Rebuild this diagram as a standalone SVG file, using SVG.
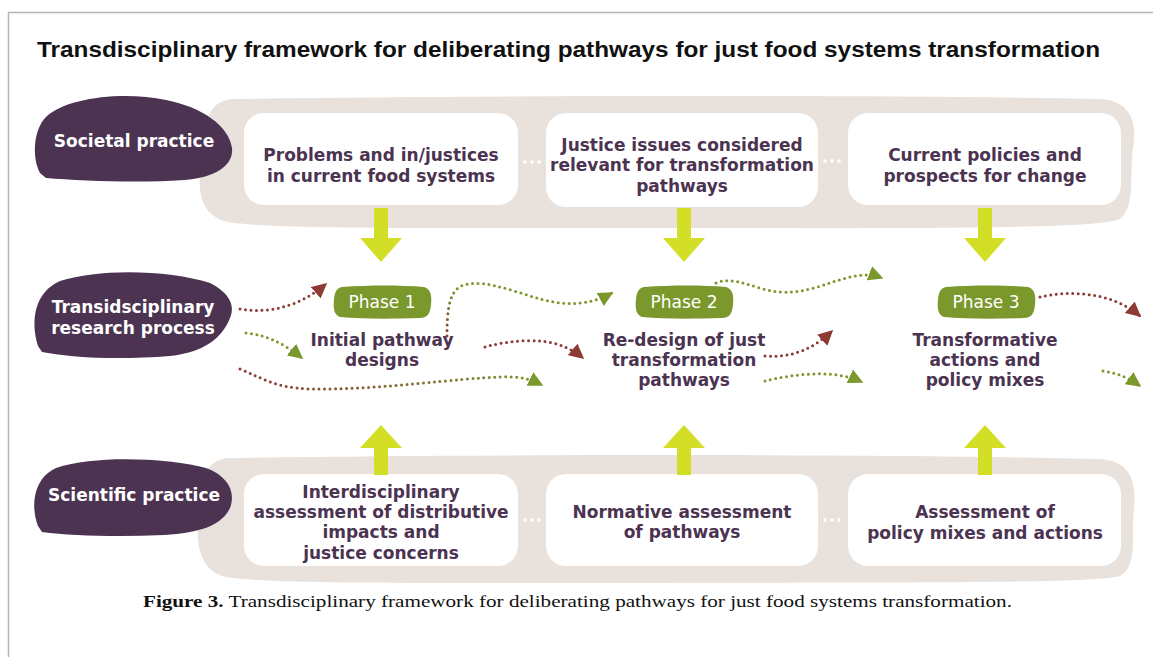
<svg xmlns="http://www.w3.org/2000/svg" width="1153" height="657" viewBox="0 0 1153 657">
  <style>
    .title { font-family: "Liberation Sans", "DejaVu Sans", sans-serif; font-weight: bold; font-size: 22.5px; fill: #111111; }
    .band { fill: #e8e1dc; }
    .box { fill: #ffffff; }
    .blob { fill: #4b3351; }
    .blob-label { font-family: "DejaVu Sans", "Liberation Sans", sans-serif; font-weight: bold; font-size: 17px; fill: #ffffff; text-anchor: middle; }
    .box-label { font-family: "DejaVu Sans", "Liberation Sans", sans-serif; font-weight: bold; font-size: 17px; fill: #4b3351; text-anchor: middle; }
    .phase { fill: #7a982b; }
    .phase-label { font-family: "DejaVu Sans", "Liberation Sans", sans-serif; font-size: 17px; fill: #ffffff; text-anchor: middle; }
    .block-arrow { fill: #d3df26; }
    .dot { fill: #ffffff; }
    .flow { fill: none; stroke-width: 3; stroke-linecap: round; stroke-dasharray: 0 5.5; }
    .flow-red { stroke: #8e3a35; }
    .flow-green { stroke: #7a982b; }
    .caption { font-family: "Liberation Serif", serif; font-size: 17.5px; fill: #111111; }
  </style>
  <defs>
    <marker id="head-red" viewBox="0 0 10 10" refX="9" refY="5" markerWidth="15" markerHeight="15" markerUnits="userSpaceOnUse" orient="auto">
      <path d="M0,0 L10,5 L0,10 Z" fill="#8e3a35"/>
    </marker>
    <marker id="head-green" viewBox="0 0 10 10" refX="9" refY="5" markerWidth="15" markerHeight="15" markerUnits="userSpaceOnUse" orient="auto">
      <path d="M0,0 L10,5 L0,10 Z" fill="#7a982b"/>
    </marker>
    <linearGradient id="red-to-green" x1="0" y1="0" x2="1" y2="0">
      <stop offset="0" stop-color="#8e3a35"/>
      <stop offset="1" stop-color="#7a982b"/>
    </linearGradient>
    <linearGradient id="red-to-green-v" x1="0" y1="1" x2="1" y2="0">
      <stop offset="0" stop-color="#8e3a35"/>
      <stop offset="0.5" stop-color="#7a982b"/>
      <stop offset="1" stop-color="#7a982b"/>
    </linearGradient>
    <path id="arrow-down" d="M-7,0 H7 V30 H21 L0,54 L-21,30 H-7 Z"/>
    <path id="arrow-up" d="M0,0 L21,23 H7 V50 H-7 V23 H-21 Z"/>
  </defs>

  <!-- frame -->
  <path d="M8.5,657 V12.5 H1153" fill="none" stroke="#b5b5b5" stroke-width="1.5"/>

  <text class="title" x="37" y="57" textLength="1063" lengthAdjust="spacingAndGlyphs">Transdisciplinary framework for deliberating pathways for just food systems transformation</text>

  <!-- societal practice row -->
  <g id="societal-band">
    <path class="band" d="M232,99 C520,95 880,95 1100,99 C1128,101 1138,118 1133,148 C1129,175 1136,206 1120,219 C1100,230 880,228 600,228 C420,228 270,229 228,222 C202,216 198,194 200,168 C202,128 206,101 232,99 Z"/>
    <circle class="dot" cx="525" cy="162" r="1.8"/><circle class="dot" cx="532" cy="162" r="1.8"/><circle class="dot" cx="539" cy="162" r="1.8"/>
    <circle class="dot" cx="825" cy="161" r="1.8"/><circle class="dot" cx="832" cy="161" r="1.8"/><circle class="dot" cx="839" cy="161" r="1.8"/>
  </g>
  <g id="societal-practice">
    <path class="blob" d="M40,173 C32,158 33,130 46,117 C66,98 122,91 166,100 C202,107 229,126 232,148 C234,166 214,178 184,180 C140,183 82,181 46,178 Z"/>
    <text class="blob-label" x="134" y="147">Societal practice</text>
  </g>
  <g id="problems-injustices">
    <rect class="box" x="244" y="113" width="274" height="92" rx="20"/>
    <text class="box-label" x="381" y="161">Problems and in/justices</text>
    <text class="box-label" x="381" y="182">in current food systems</text>
  </g>
  <g id="justice-issues">
    <rect class="box" x="546" y="113" width="272" height="94" rx="20"/>
    <text class="box-label" x="682" y="151">Justice issues considered</text>
    <text class="box-label" x="682" y="171">relevant for transformation</text>
    <text class="box-label" x="682" y="192">pathways</text>
  </g>
  <g id="current-policies">
    <rect class="box" x="848" y="113" width="273" height="92" rx="20"/>
    <text class="box-label" x="985" y="161">Current policies and</text>
    <text class="box-label" x="985" y="182">prospects for change</text>
  </g>

  <!-- scientific practice row -->
  <g id="scientific-band">
    <path class="band" d="M228,458 C520,454 880,454 1100,459 C1128,461 1137,478 1134,508 C1131,538 1138,566 1120,576 C1098,584 880,582 600,583 C420,583 268,584 226,577 C200,571 196,546 198,516 C200,480 205,460 228,458 Z"/>
    <circle class="dot" cx="525" cy="520" r="1.8"/><circle class="dot" cx="532" cy="520" r="1.8"/><circle class="dot" cx="539" cy="520" r="1.8"/>
    <circle class="dot" cx="825" cy="520" r="1.8"/><circle class="dot" cx="832" cy="520" r="1.8"/><circle class="dot" cx="839" cy="520" r="1.8"/>
  </g>
  <g id="scientific-practice">
    <path class="blob" d="M38,526 C30,505 34,478 56,468 C96,455 166,458 206,468 C228,476 236,492 230,508 C222,525 200,533 164,535 C120,537 72,536 42,532 Z"/>
    <text class="blob-label" x="134" y="501">Scientific practice</text>
  </g>
  <g id="interdisciplinary-assessment">
    <rect class="box" x="244" y="474" width="274" height="92" rx="20"/>
    <text class="box-label" x="381" y="498">Interdisciplinary</text>
    <text class="box-label" x="381" y="518">assessment of distributive</text>
    <text class="box-label" x="381" y="538">impacts and</text>
    <text class="box-label" x="381" y="559">justice concerns</text>
  </g>
  <g id="normative-assessment">
    <rect class="box" x="546" y="474" width="272" height="92" rx="20"/>
    <text class="box-label" x="682" y="518">Normative assessment</text>
    <text class="box-label" x="682" y="538">of pathways</text>
  </g>
  <g id="policy-assessment">
    <rect class="box" x="848" y="474" width="273" height="92" rx="20"/>
    <text class="box-label" x="985" y="518">Assessment of</text>
    <text class="box-label" x="985" y="539">policy mixes and actions</text>
  </g>

  <!-- transdisciplinary research process row -->
  <g id="research-process">
    <path class="blob" d="M38,346 C30,320 35,292 60,281 C100,268 170,270 210,283 C228,292 236,305 230,318 C222,338 205,352 170,356 C120,360 72,358 42,352 Z"/>
    <text class="blob-label" x="133" y="313">Transidsciplinary</text>
    <text class="blob-label" x="133" y="334">research process</text>
  </g>
  <g id="phase-1">
    <path class="phase" d="M342,287 C370,285 400,285 424,287 C431,289 432,296 431,305 C430,313 428,318 420,318 C390,319 362,319 340,317 C334,315 333,308 334,299 C335,291 337,288 342,287 Z"/>
    <text class="phase-label" x="382" y="308">Phase 1</text>
    <text class="box-label" x="382" y="346">Initial pathway</text>
    <text class="box-label" x="382" y="366">designs</text>
  </g>
  <g id="phase-2">
    <path class="phase" d="M644,287 C672,285 702,285 726,287 C733,289 734,296 733,305 C732,313 730,318 722,318 C692,319 664,319 642,317 C636,315 635,308 636,299 C637,291 639,288 644,287 Z"/>
    <text class="phase-label" x="684" y="308">Phase 2</text>
    <text class="box-label" x="684" y="346">Re-design of just</text>
    <text class="box-label" x="684" y="366">transformation</text>
    <text class="box-label" x="684" y="386">pathways</text>
  </g>
  <g id="phase-3">
    <path class="phase" d="M946,287 C974,285 1004,285 1028,287 C1035,289 1036,296 1035,305 C1034,313 1032,318 1024,318 C994,319 966,319 944,317 C938,315 937,308 938,299 C939,291 941,288 946,287 Z"/>
    <text class="phase-label" x="986" y="308">Phase 3</text>
    <text class="box-label" x="985" y="346">Transformative</text>
    <text class="box-label" x="985" y="366">actions and</text>
    <text class="box-label" x="985" y="386">policy mixes</text>
  </g>

  <!-- connectors -->
  <g id="connectors">
    <use href="#arrow-down" class="block-arrow" x="381" y="208"/>
    <use href="#arrow-down" class="block-arrow" x="684" y="208"/>
    <use href="#arrow-down" class="block-arrow" x="985" y="208"/>
    <use href="#arrow-up" class="block-arrow" x="381" y="425"/>
    <use href="#arrow-up" class="block-arrow" x="684" y="425"/>
    <use href="#arrow-up" class="block-arrow" x="985" y="425"/>

    <path class="flow flow-red" d="M240,309 C270,314 300,306 326,284" marker-end="url(#head-red)"/>
    <path class="flow flow-green" d="M246,333 C265,335 282,342 302,358" marker-end="url(#head-green)"/>
    <path class="flow" stroke="url(#red-to-green)" d="M240,369 C262,378 276,388 310,389 C380,390 460,378 500,377 C520,376 530,379 542,385" marker-end="url(#head-green)"/>
    <path class="flow" stroke="url(#red-to-green-v)" d="M447,336 C447,316 448,296 458,288 C475,276 510,290 540,299 C570,307 592,304 612,293" marker-end="url(#head-green)"/>
    <path class="flow flow-red" d="M485,347 C510,340 540,338 560,345 C570,349 577,353 583,358" marker-end="url(#head-red)"/>
    <path class="flow flow-green" d="M716,283 C735,275 755,290 780,292 C820,295 850,266 882,278" marker-end="url(#head-green)"/>
    <path class="flow flow-red" d="M765,356 C790,358 812,350 832,331" marker-end="url(#head-red)"/>
    <path class="flow flow-green" d="M765,381 C790,375 832,368 862,382" marker-end="url(#head-green)"/>
    <path class="flow flow-red" d="M1040,297 C1070,290 1112,292 1140,316" marker-end="url(#head-red)"/>
    <path class="flow flow-green" d="M1103,371 C1115,373 1126,376 1140,386" marker-end="url(#head-green)"/>
  </g>

  <text class="caption" x="143" y="607" textLength="869" lengthAdjust="spacingAndGlyphs"><tspan font-weight="bold">Figure 3.</tspan> Transdisciplinary framework for deliberating pathways for just food systems transformation.</text>
</svg>
